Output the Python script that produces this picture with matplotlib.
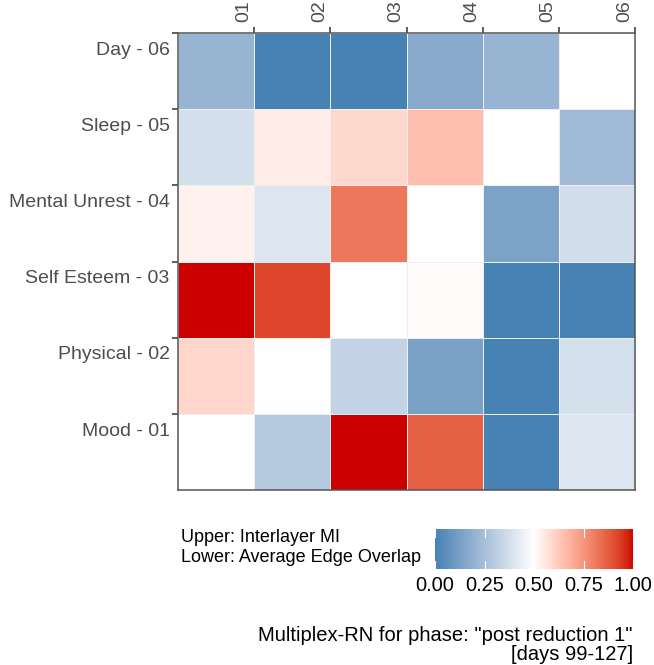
import numpy as np
import matplotlib
matplotlib.use("Agg")
import matplotlib.pyplot as plt
from matplotlib.colors import ListedColormap

plt.rcParams['font.family'] = ['Liberation Sans', 'DejaVu Sans']

# Donnees (lignes de haut en bas, colonnes 01 -> 06), NaN = diagonale
row_labels = ["Day - 06", "Sleep - 05", "Mental Unrest - 04",
              "Self Esteem - 03", "Physical - 02", "Mood - 01"]
col_labels = ["01", "02", "03", "04", "05", "06"]
nan = np.nan
day = [0.21, 0.00, 0.00, 0.17, 0.21, nan]
sleep = [0.375, 0.545, 0.59, 0.655, nan, 0.23]
mental = [0.535, 0.40, 0.82, nan, 0.135, 0.37]
self_esteem = [1.00, 0.92, nan, 0.51, 0.00, 0.00]
physical = [0.595, nan, 0.33, 0.13, 0.00, 0.38]
mood = [nan, 0.29, 1.00, 0.87, 0.00, 0.40]
cbar_ticks = [0.00, 0.25, 0.50, 0.75, 1.00]


def srgb_to_lab(c):
    c = np.asarray(c, float)
    lin = np.where(c <= 0.04045, c / 12.92, ((c + 0.055) / 1.055) ** 2.4)
    m = np.array([[0.4124, 0.3576, 0.1805],
                  [0.2126, 0.7152, 0.0722],
                  [0.0193, 0.1192, 0.9505]])
    xyz = m @ lin / np.array([0.95047, 1.0, 1.08883])
    f = np.where(xyz > 0.008856, np.cbrt(xyz), 7.787 * xyz + 16 / 116)
    return np.array([116 * f[1] - 16, 500 * (f[0] - f[1]), 200 * (f[1] - f[2])])


def lab_to_srgb(lab):
    fy = (lab[0] + 16) / 116
    fx = fy + lab[1] / 500
    fz = fy - lab[2] / 200
    f = np.array([fx, fy, fz])
    xyz = np.where(f ** 3 > 0.008856, f ** 3, (f - 16 / 116) / 7.787)
    xyz = xyz * np.array([0.95047, 1.0, 1.08883])
    m = np.array([[3.2406, -1.5372, -0.4986],
                  [-0.9689, 1.8758, 0.0415],
                  [0.0557, -0.2040, 1.0570]])
    lin = m @ xyz
    c = np.where(lin <= 0.0031308, 12.92 * lin, 1.055 * np.clip(lin, 0, None) ** (1 / 2.4) - 0.055)
    return np.clip(c, 0, 1)


# Gradient bleu - blanc - rouge interpole en Lab
low = srgb_to_lab([0x46 / 255, 0x82 / 255, 0xB4 / 255])
mid = srgb_to_lab([1.0, 1.0, 1.0])
high = srgb_to_lab([0xCD / 255, 0.0, 0.0])
colors = []
for t in np.linspace(0, 1, 256):
    if t <= 0.5:
        lab = low + (mid - low) * (t / 0.5)
    else:
        lab = mid + (high - mid) * ((t - 0.5) / 0.5)
    colors.append(lab_to_srgb(lab))
cmap = ListedColormap(colors)
cmap.set_bad("white")

data = np.array([day, sleep, mental, self_esteem, physical, mood])[::-1]

fig = plt.figure(figsize=(6.54, 6.65), dpi=100)
ax = fig.add_axes([178 / 654, 1 - 490 / 665, 457 / 654, 457 / 665])
mesh = ax.pcolormesh(np.arange(7), np.arange(7), np.ma.masked_invalid(data),
                     cmap=cmap, vmin=0, vmax=1, edgecolors="#EEEEEE", linewidth=0.5)
ax.set_xlim(0, 6)
ax.set_ylim(0, 6)

# Ticks aux bords des cellules, etiquettes decalees
n = len(col_labels)
ax.set_xticks(np.arange(1, n + 1))
ax.set_xticklabels([])
ax.set_xticks(np.arange(1, n + 1) - 0.14, minor=True)
ax.set_xticklabels(col_labels, minor=True, rotation=90)
ax.set_yticks(np.arange(1, n + 1))
ax.set_yticklabels([])
ax.set_yticks(np.arange(n, 0, -1) - 0.2, minor=True)
ax.set_yticklabels(row_labels, minor=True)
ax.xaxis.tick_top()
ax.tick_params(which="major", length=4, width=1.1, color="#333333")
ax.tick_params(which="minor", length=0, labelsize=14, labelcolor="#4D4D4D", pad=6)
ax.tick_params(axis="x", which="minor", pad=8)
for s in ax.spines.values():
    s.set_color("#555555")
    s.set_linewidth(1.1)

# Barre de couleur
cax = fig.add_axes([435 / 654, 1 - 569 / 665, 198 / 654, 40 / 665])
cb = fig.colorbar(mesh, cax=cax, orientation="horizontal")
cb.outline.set_visible(False)
cb.set_ticks(cbar_ticks)
cb.set_ticklabels([f"{v:.2f}" for v in cbar_ticks])
cax.tick_params(length=0, labelsize=14.4, pad=5)
for v in cbar_ticks:
    cax.axvline(v, ymin=0, ymax=0.2, color="white", lw=0.8)
    cax.axvline(v, ymin=0.8, ymax=1, color="white", lw=0.8)

fig.text(181 / 654, 1 - 537 / 665, "Upper: Interlayer MI", fontsize=13, va="center")
fig.text(181 / 654, 1 - 557 / 665, "Lower: Average Edge Overlap", fontsize=13, va="center")
fig.text(633 / 654, 1 - 645 / 665,
         'Multiplex-RN for phase: "post reduction 1"\n[days 99-127]',
         fontsize=14.5, ha="right", va="center", linespacing=1.0)

fig.savefig("out.png", dpi=100)
